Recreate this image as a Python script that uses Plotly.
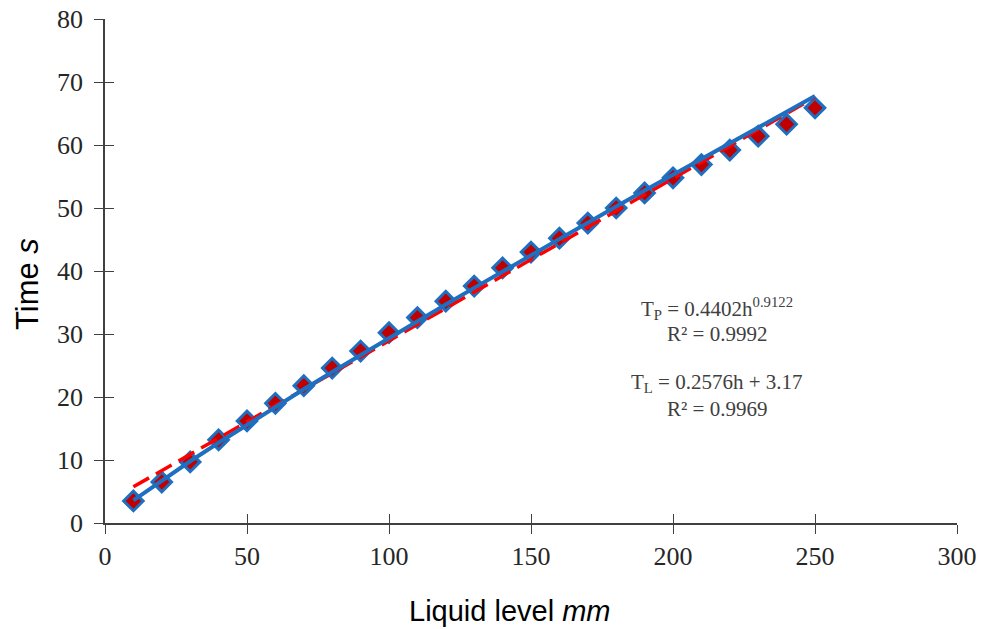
import plotly.graph_objects as go

# Data
liquid_level = [10, 20, 30, 40, 50, 60, 70, 80, 90, 100, 110, 120, 130,
                140, 150, 160, 170, 180, 190, 200, 210, 220, 230, 240, 250]
time_s = [3.5, 6.5, 9.7, 13.2, 16.2, 19.0, 21.8, 24.6, 27.3, 30.2, 32.6, 35.2, 37.6,
          40.5, 43.0, 45.2, 47.6, 50.0, 52.4, 54.8, 56.9, 59.2, 61.4, 63.3, 65.9]

# Trendline coefficients shown on the chart
power_a, power_b = 0.4402, 0.9122
lin_m, lin_c = 0.2576, 3.17

x_ticks = [0, 50, 100, 150, 200, 250, 300]
y_ticks = [0, 10, 20, 30, 40, 50, 60, 70, 80]

power_fit = [power_a * h ** power_b for h in liquid_level]
linear_fit = [lin_m * h + lin_c for h in liquid_level]

blue = "#1f6fc0"

fig = go.Figure()
fig.add_trace(go.Scatter(
    x=liquid_level, y=time_s, mode="markers",
    marker=dict(symbol="diamond", size=15, color="#c00000",
                line=dict(color=blue, width=3)),
    showlegend=False))
fig.add_trace(go.Scatter(
    x=liquid_level, y=linear_fit, mode="lines",
    line=dict(color="#ff0000", width=3.5, dash="18px,8px"), showlegend=False))
fig.add_trace(go.Scatter(
    x=liquid_level, y=power_fit, mode="lines",
    line=dict(color=blue, width=4), showlegend=False))
# dummy trace so the overlay axes (for crossing ticks) render
fig.add_trace(go.Scatter(x=[None], y=[None], xaxis="x2", yaxis="y2",
                         showlegend=False, hoverinfo="skip"))

axis_col = "#404040"
tick_font = dict(family="Liberation Serif", size=26, color="#262626")

L, R, T, B = 105, 957, 19, 523
W, H = 982, 629

fig.update_layout(
    width=W, height=H,
    margin=dict(l=L, r=W - R, t=T, b=H - B),
    plot_bgcolor="white", paper_bgcolor="white",
    xaxis=dict(range=[0, 300], tickvals=x_ticks, showgrid=False, zeroline=False,
               showline=True, linecolor=axis_col, linewidth=1.5, automargin=False,
               ticks="outside", ticklen=9, tickwidth=1.2, tickcolor=axis_col,
               tickfont=tick_font),
    xaxis2=dict(range=[0, 300], tickvals=x_ticks, overlaying="x", anchor="y",
                side="bottom", showgrid=False, zeroline=False, showline=False,
                ticks="inside", ticklen=9, tickwidth=1.2, tickcolor=axis_col,
                showticklabels=False, automargin=False),
    yaxis=dict(range=[0, 80], tickvals=y_ticks, showgrid=False, zeroline=False,
               showline=True, linecolor=axis_col, linewidth=1.5, automargin=False,
               ticks="outside", ticklen=9, tickwidth=1.2, tickcolor=axis_col,
               tickfont=tick_font, ticklabelstandoff=6),
    yaxis2=dict(range=[0, 80], tickvals=y_ticks, overlaying="y", anchor="x",
                side="left", showgrid=False, zeroline=False, showline=False,
                ticks="inside", ticklen=9, tickwidth=1.2, tickcolor=axis_col,
                showticklabels=False, automargin=False),
)

# Axis titles (placed as in the reference, slightly off-centre)
fig.add_annotation(text="Liquid level <i>mm</i>", xref="paper", yref="paper",
                   x=(509 - L) / (R - L), y=(B - 611) / (B - T),
                   showarrow=False, xanchor="center", yanchor="middle",
                   font=dict(family="Liberation Sans", size=29, color="black"))
fig.add_annotation(text="Time <i>s</i>", xref="paper", yref="paper",
                   x=(27 - L) / (R - L), y=(B - 284) / (B - T), textangle=-90,
                   showarrow=False, xanchor="center", yanchor="middle",
                   font=dict(family="Liberation Sans", size=31, color="black"))

ann_font = dict(family="Liberation Serif", size=21, color="#404040")
ann = [
    ("T<sub>P</sub> = 0.4402h<sup>0.9122</sup>", 308),
    ("R² = 0.9992", 334),
    ("T<sub>L</sub> = 0.2576h + 3.17", 383),
    ("R² = 0.9969", 409),
]
for txt, py in ann:
    fig.add_annotation(text=txt, xref="paper", yref="paper",
                       x=(717 - L) / (R - L), y=(B - py) / (B - T),
                       showarrow=False, font=ann_font, xanchor="center", yanchor="middle")

fig.write_html("out.html")
